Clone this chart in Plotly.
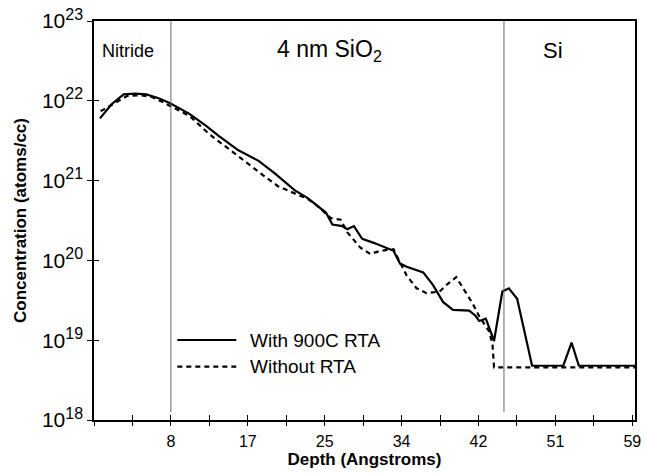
import plotly.graph_objects as go

# Depth (Angstroms) and log10 concentration (atoms/cc)
depth_rta = [0.65, 1.96, 3.26, 4.57, 5.76, 7.18, 8.37, 10.44, 12.29, 13.70, 15.87, 18.05,
             19.87, 22.04, 23.49, 24.57, 25.48, 26.20, 27.29, 27.84, 28.56, 29.47, 30.74,
             32.91, 33.63, 34.36, 36.18, 37.26, 38.35, 39.44, 41.24, 41.97, 42.33, 43.06,
             43.96, 44.87, 45.59, 46.50, 48.14, 51.57, 52.48, 53.28, 59.45]
logc_rta = [21.78, 21.96, 22.08, 22.09, 22.08, 22.03, 21.97, 21.84, 21.69, 21.56, 21.38, 21.25,
            21.09, 20.88, 20.78, 20.68, 20.60, 20.45, 20.43, 20.39, 20.43, 20.27, 20.22,
            20.12, 19.96, 19.92, 19.85, 19.69, 19.48, 19.38, 19.37, 19.30, 19.24, 19.27,
            18.99, 19.61, 19.65, 19.52, 18.68, 18.68, 18.97, 18.68, 18.68]

depth_norta = [0.73, 2.17, 3.62, 5.00, 6.31, 7.61, 10.51, 12.69, 15.15, 16.96, 18.78, 20.22,
               22.04, 23.49, 24.57, 26.02, 27.11, 27.84, 29.28, 30.37, 31.46, 32.91, 34.36,
               35.45, 36.53, 37.98, 38.71, 39.80, 41.61, 42.33, 43.42, 43.79, 43.96, 59.45]
logc_norta = [21.87, 21.96, 22.06, 22.07, 22.05, 21.98, 21.81, 21.58, 21.36, 21.21, 21.05, 20.93,
              20.84, 20.77, 20.68, 20.53, 20.51, 20.35, 20.16, 20.08, 20.12, 20.14, 19.81,
              19.65, 19.59, 19.61, 19.69, 19.79, 19.46, 19.30, 19.11, 18.95, 18.66, 18.66]

conc_rta = [10.0 ** v for v in logc_rta]
conc_norta = [10.0 ** v for v in logc_norta]

series_names = ["With 900C RTA", "Without RTA"]
series_dash = ["solid", "5px,4px"]

x_tick_step = 4.225
x_tick_labels = ["8", "17", "25", "34", "42", "51", "59"]
y_tick_exps = [18, 19, 20, 21, 22, 23]
y_tick_vals = [10.0 ** e for e in y_tick_exps]

region_bounds = [8.45, 45.05]
region_labels = [("Nitride", 3.75, 18), ("4 nm SiO<sub>2</sub>", 25.9, 23), ("Si", 50.4, 22)]

FONT = "Arial, Liberation Sans, sans-serif"
XMAX = 59.45

fig = go.Figure()
fig.add_trace(go.Scatter(x=depth_rta, y=conc_rta, mode="lines", name=series_names[0],
                         showlegend=False, line=dict(color="black", width=2.2, dash=series_dash[0])))
fig.add_trace(go.Scatter(x=depth_norta, y=conc_norta, mode="lines", name=series_names[1],
                         showlegend=False, line=dict(color="black", width=2.2, dash=series_dash[1])))

for xb in region_bounds:
    fig.add_shape(type="line", x0=xb, x1=xb, xref="x", y0=0.02, y1=1, yref="paper",
                  line=dict(color="#666666", width=1))

for txt, xp, fs in region_labels:
    fig.add_annotation(x=xp, y=0.925, xref="x", yref="paper", text=txt, showarrow=False,
                       yanchor="middle", xanchor="center",
                       font=dict(size=fs, family=FONT, color="black"))

# legend (drawn as key lines + labels in paper space)
leg_x0, leg_x1, leg_tx = 0.154, 0.263, 0.285
leg_ys = [0.2005, 0.1337]
for name, dash, ly in zip(series_names, series_dash, leg_ys):
    fig.add_shape(type="line", xref="paper", yref="paper", x0=leg_x0, x1=leg_x1, y0=ly, y1=ly,
                  line=dict(color="black", width=2.2, dash=dash))
    fig.add_annotation(xref="paper", yref="paper", x=leg_tx, y=ly, text=name, showarrow=False,
                       xanchor="left", yanchor="middle",
                       font=dict(size=19, family=FONT, color="black"))

all_ticks = [x_tick_step * i for i in range(15)]
label_ticks = [x_tick_step * (2 * i + 2) for i in range(len(x_tick_labels))]
sup = "10<sup><span style='font-size:16px'>%d</span></sup>"

fig.update_layout(
    width=647, height=474,
    margin=dict(l=94, r=6, t=16, b=54),
    paper_bgcolor="white", plot_bgcolor="white",
    font=dict(family=FONT, color="black"),
    showlegend=False,
    xaxis=dict(range=[0, XMAX], tickvals=label_ticks, ticktext=x_tick_labels,
               ticks="", showgrid=False, zeroline=False, showline=True, linecolor="black",
               linewidth=1.5, mirror=True, tickfont=dict(size=16), ticklabelstandoff=6,
               title=dict(text="<b>Depth (Angstroms)</b>", font=dict(size=17), standoff=2)),
    xaxis2=dict(range=[0, XMAX], overlaying="x", tickvals=all_ticks, ticks="outside",
                ticklen=5, tickcolor="black", showticklabels=False, showgrid=False,
                zeroline=False, showline=False, side="bottom", anchor="y"),
    xaxis3=dict(range=[0, XMAX], overlaying="x", tickvals=all_ticks, ticks="inside",
                ticklen=5, tickcolor="black", showticklabels=False, showgrid=False,
                zeroline=False, showline=False, side="bottom", anchor="y"),
    yaxis=dict(type="log", range=[18, 23], tickvals=y_tick_vals,
               ticktext=[sup % e for e in y_tick_exps], ticks="outside",
               ticklen=5, tickcolor="black", showgrid=False, zeroline=False, showline=True,
               linecolor="black", linewidth=1.5, mirror=True, tickfont=dict(size=21),
               title=dict(text="<b>Concentration (atoms/cc)</b>", font=dict(size=17), standoff=11)),
    yaxis2=dict(type="log", range=[18, 23], overlaying="y", tickvals=y_tick_vals,
                ticks="inside", ticklen=5, tickcolor="black", showticklabels=False,
                showgrid=False, zeroline=False, showline=False, side="left", anchor="x"),
)
# invisible traces to activate overlay axes for the crossing ticks
fig.add_trace(go.Scatter(x=[0], y=[1e18], xaxis="x2", yaxis="y", mode="markers",
                         marker=dict(opacity=0), showlegend=False, hoverinfo="skip"))
fig.add_trace(go.Scatter(x=[0], y=[1e18], xaxis="x3", yaxis="y2", mode="markers",
                         marker=dict(opacity=0), showlegend=False, hoverinfo="skip"))

fig.write_html("out.html")
